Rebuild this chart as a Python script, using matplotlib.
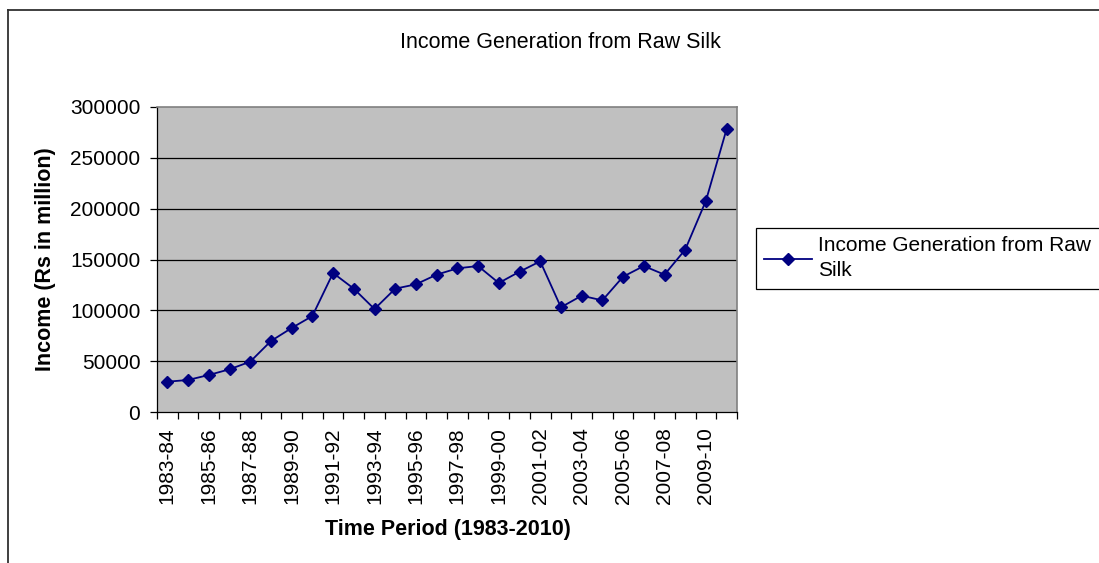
import numpy as np
import matplotlib
matplotlib.use("Agg")
import matplotlib.pyplot as plt
from matplotlib.lines import Line2D

plt.rcParams['font.family'] = ['Liberation Sans', 'DejaVu Sans']

# income from raw silk, Rs in million
periods = ["1983-84", "1984-85", "1985-86", "1986-87", "1987-88", "1988-89",
           "1989-90", "1990-91", "1991-92", "1992-93", "1993-94", "1994-95",
           "1995-96", "1996-97", "1997-98", "1998-99", "1999-00", "2000-01",
           "2001-02", "2002-03", "2003-04", "2004-05", "2005-06", "2006-07",
           "2007-08", "2008-09", "2009-10", "2010-11"]
income = [29800, 31500, 36400, 42000, 49500, 69800, 82600, 94400,
          136700, 121300, 101300, 121300, 125600, 135100, 141300, 143600,
          126900, 138000, 148200, 103000, 114400, 109800, 133100, 143600,
          135100, 159700, 207800, 278400]
y_ticks = [0, 50000, 100000, 150000, 200000, 250000, 300000]

W, H = 1099, 563
fig = plt.figure(figsize=(W / 100, H / 100), dpi=100)
fig.patch.set_facecolor("white")

# chart area frame (runs off the right and bottom edges)
fig.add_artist(Line2D([8 / W, 8 / W], [1 - 10 / H, -0.05], transform=fig.transFigure,
                      color="#303030", lw=1.3))
fig.add_artist(Line2D([8 / W, 1.05], [1 - 10 / H, 1 - 10 / H], transform=fig.transFigure,
                      color="#303030", lw=1.3))

ax = fig.add_axes([157 / W, 1 - 412 / H, (737 - 157) / W, (412 - 107) / H])
ax.set_facecolor("#C0C0C0")

x = np.arange(len(periods))
ax.plot(x, income, color="#000080", lw=1.3, marker="D", markersize=6.5,
        markerfacecolor="#000080", markeredgecolor="#000080",
        label="Income Generation from Raw\nSilk", zorder=3)

ax.set_xlim(-0.5, len(periods) - 0.5)
ax.set_ylim(0, 300000)
ax.set_yticks(y_ticks)
ax.set_yticklabels([str(v) for v in y_ticks])
for v in y_ticks[1:-1]:
    ax.axhline(v, color="black", lw=0.9, zorder=1)

# category labels on every other period, tick marks on category edges
ax.set_xticks(x[::2])
ax.set_xticklabels(periods[::2], rotation=90)
ax.set_xticks(np.arange(-0.5, len(periods)), minor=True)
ax.tick_params(axis="x", which="major", length=0, pad=11, labelsize=15)
ax.tick_params(axis="x", which="minor", length=5, width=0.9, direction="out")
ax.tick_params(axis="y", length=5, width=0.9, pad=7, labelsize=15)

for side in ("left", "bottom"):
    ax.spines[side].set_color("black")
    ax.spines[side].set_linewidth(0.9)
for side in ("top", "right"):
    ax.spines[side].set_color("#808080")
    ax.spines[side].set_linewidth(1.2)

fig.text(560 / W, 1 - 43 / H, "Income Generation from Raw Silk", ha="center",
         va="center", fontsize=15.5)
fig.text(448 / W, 1 - 530 / H, "Time Period (1983-2010)", ha="center", va="center",
         fontsize=15.5, fontweight="bold")
fig.text(46 / W, 1 - 259 / H, "Income (Rs in million)", ha="center", va="center",
         rotation=90, fontsize=15.5, fontweight="bold")

leg = ax.legend(loc="upper left", bbox_to_anchor=(756 / W, 1 - 228 / H),
                bbox_transform=fig.transFigure, borderaxespad=0, fontsize=15,
                frameon=True, fancybox=False, framealpha=1, edgecolor="black",
                handlelength=2.3, handletextpad=0.3, borderpad=0.4,
                labelspacing=0.1)
leg.get_frame().set_linewidth(0.9)
leg.get_texts()[0].set_linespacing(1.4)

fig.savefig("out.png", dpi=100)
